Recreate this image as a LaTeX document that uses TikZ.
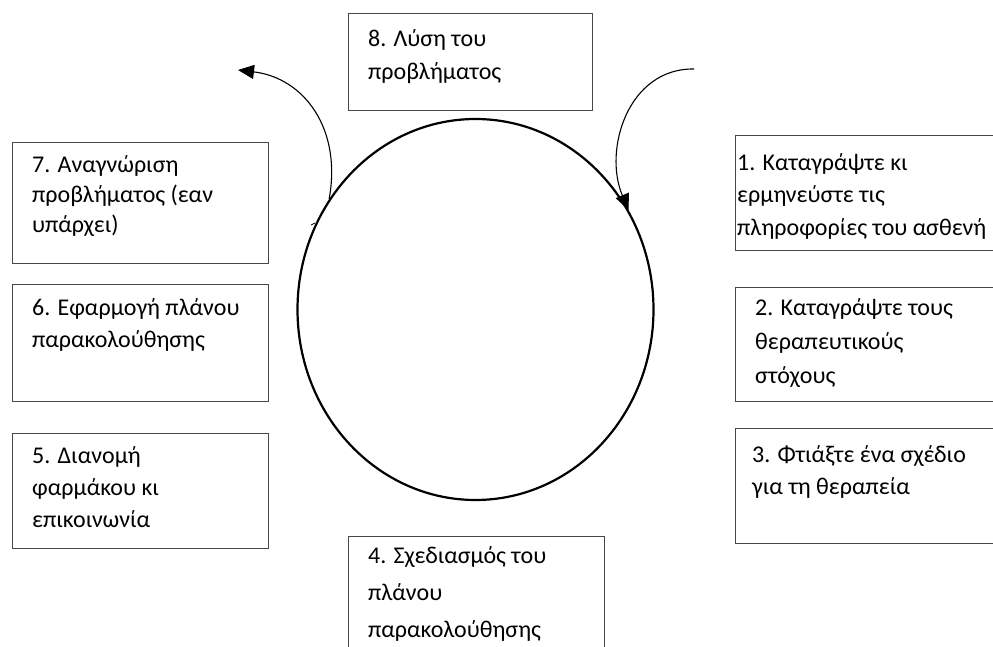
\documentclass[tikz,border=0pt]{standalone}
\usepackage{fontspec}
\setmainfont{Carlito}
\usetikzlibrary{arrows.meta,shapes.geometric}
\begin{document}
\begin{tikzpicture}[x=1pt,y=-1pt,
  boxline/.style={draw=black!72, line width=1.3pt, inner sep=0pt, anchor=north west},
  txt/.style={anchor=base west, inner sep=0pt, align=left, font=\fontsize{24}{32}\selectfont},
  arr/.style={line width=1.1pt, -{Triangle[length=16pt,width=14pt]}}]
\useasboundingbox[fill=white] (0,0) rectangle (993,647);
% boxes
\node[boxline, minimum width=244pt, minimum height=97pt] (b8) at (348,13) {};
\node[boxline, minimum width=256pt, minimum height=121pt] (b7) at (12,142) {};
\node[boxline, minimum width=256pt, minimum height=117pt] (b6) at (12,284) {};
\node[boxline, minimum width=256pt, minimum height=115pt] (b5) at (12,433) {};
\node[boxline, minimum width=256pt, minimum height=130pt] (b4) at (348,536) {};
\node[boxline, minimum width=280pt, minimum height=115pt] (b1) at (735,135) {};
\node[boxline, minimum width=280pt, minimum height=114pt] (b2) at (735,287) {};
\node[boxline, minimum width=280pt, minimum height=115pt] (b3) at (735,428) {};
% texts (anchored at the baseline of the last line)
\node[txt, font=\fontsize{24}{33}\selectfont] (t8) at (368,80) {8. Λύση του\\προβλήματος};
\node[txt, font=\fontsize{24}{30}\selectfont] (t7) at (32,233) {7. Αναγνώριση\\προβλήματος (εαν\\υπάρχει)};
\node[txt] (t6) at (32,347) {6. Εφαρμογή πλάνου\\παρακολούθησης};
\node[txt] (t5) at (32,527) {5. Διανομή\\φαρμάκου κι\\επικοινωνία};
\node[txt, font=\fontsize{24}{37}\selectfont] (t4) at (368,637) {4. Σχεδιασμός του\\πλάνου\\παρακολούθησης};
\node[txt, font=\fontsize{24}{33}\selectfont] (t1) at (737,236) {1. Καταγράψτε κι\\ερμηνεύστε τις\\πληροφορίες του ασθενή};
\node[txt, font=\fontsize{24}{34}\selectfont] (t2) at (755,383) {2. Καταγράψτε τους\\θεραπευτικούς\\στόχους};
\node[txt] (t3) at (752,494) {3. Φτιάξτε ένα σχέδιο\\για τη θεραπεία};
% circle
\node[draw, ellipse, line width=2.2pt, minimum width=356pt, minimum height=381pt, inner sep=0pt] (c) at (475.5,309.5) {};
% arrows
\coordinate (a8) at (238,70);
\coordinate (s1) at (694,69);
\draw[arr] (c.143) .. controls (342,130) and (305,78) .. (a8);
\draw[arr] (s1) .. controls (628,68) and (603,150) .. (c.33);
\coordinate (k1) at (311,225);
\coordinate (k2) at (315,223);
\draw[line width=0.8pt] (k1) -- (k2);
\end{tikzpicture}
\end{document}
